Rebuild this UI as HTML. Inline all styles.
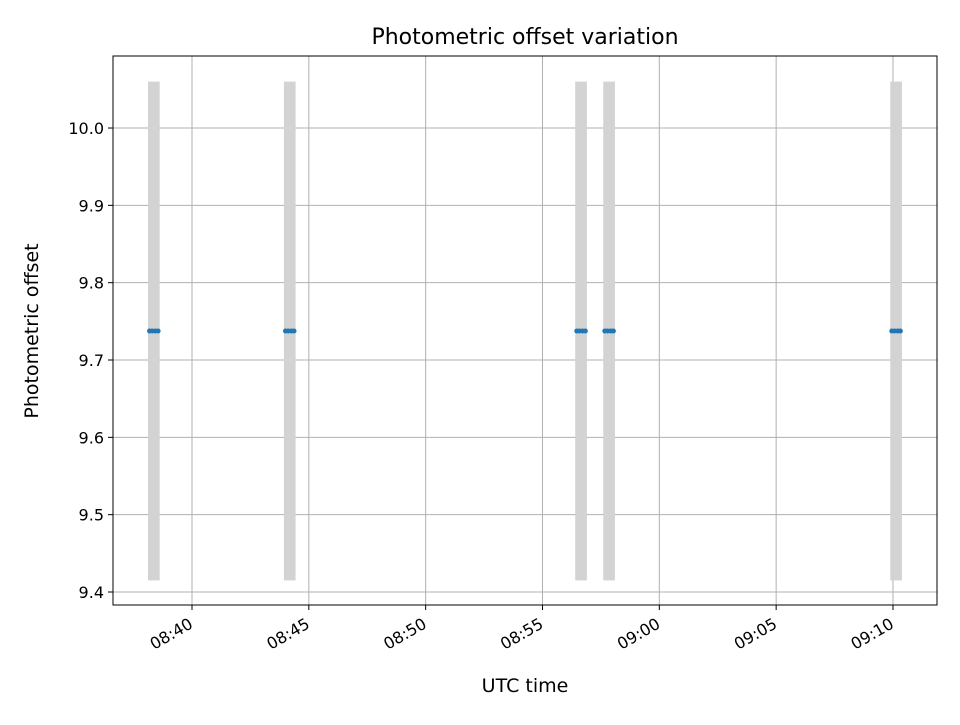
<!DOCTYPE html>
<html><head><meta charset="utf-8"><style>
body{margin:0;background:#fff;font-family:"Liberation Sans","DejaVu Sans",sans-serif}
</style></head><body>
<svg id="chart" width="960" height="720" xmlns="http://www.w3.org/2000/svg" font-family="DejaVu Sans, Liberation Sans, sans-serif"></svg>
<script>
// time in seconds relative to 08:40:00 UTC
const pointTimes = [-109,-102,-94,-87, 240,247,255,262, 988,995,1003,1010, 1060,1067,1075,1082, 1797,1804,1812,1819];
const pointValues = [9.7375,9.7375,9.7375,9.7375, 9.7375,9.7375,9.7375,9.7375, 9.7375,9.7375,9.7375,9.7375, 9.7375,9.7375,9.7375,9.7375, 9.7375,9.7375,9.7375,9.7375];
const bandStarts = [-113, 236, 984, 1056, 1793];
const bandEnds = [-83, 266, 1014, 1086, 1823];
const bandLow = 9.415, bandHigh = 10.06;
const xTickValues = [0,300,600,900,1200,1500,1800];
const xTickLabels = ["08:40","08:45","08:50","08:55","09:00","09:05","09:10"];
const yTickValues = [9.4,9.5,9.6,9.7,9.8,9.9,10.0];
const yTickLabels = ["9.4","9.5","9.6","9.7","9.8","9.9","10.0"];

const L=113,R=937,T=56,B=605;
const xs=t=>192+(t)*(116.83/300);
const ys=v=>592-(v-9.4)*773.3;
const svg=document.getElementById('chart');
const NS='http://www.w3.org/2000/svg';
function mk(tag,attrs,parent){const e=document.createElementNS(NS,tag);for(const k in attrs)e.setAttribute(k,attrs[k]);(parent||svg).appendChild(e);return e;}
xTickValues.forEach((t,i)=>{
  const g=mk('line',{x1:xs(t),x2:xs(t),y1:T,y2:B,stroke:'#b0b0b0','stroke-width':1});
  
  
});
yTickValues.forEach((v,i)=>{
  const g=mk('line',{x1:L,x2:R,y1:ys(v),y2:ys(v),stroke:'#b0b0b0','stroke-width':1});
  
  
});
bandStarts.forEach((s,i)=>{
  const r=mk('rect',{x:xs(s),y:ys(bandHigh),width:xs(bandEnds[i])-xs(s),height:ys(bandLow)-ys(bandHigh),fill:'#d3d3d3'});
  
  
});
pointTimes.forEach((t,i)=>{
  const c=mk('circle',{cx:xs(t),cy:ys(pointValues[i]),r:2.5,fill:'#1f77b4'});
  
  
});
const f=mk('rect',{x:L,y:T,width:R-L,height:B-T,fill:'none',stroke:'#000','stroke-width':1});


xTickValues.forEach((t,i)=>{
  const x=xs(t);
  const tk=mk('line',{x1:x,x2:x,y1:B,y2:B+5,stroke:'#000'});
  
  
  const ax=x+2, ay=B+22;
  const tx=mk('text',{x:ax,y:ay,'font-size':16,'text-anchor':'end',transform:`rotate(-30 ${ax} ${ay})`});
  tx.textContent=xTickLabels[i];
  
  
});
yTickValues.forEach((v,i)=>{
  const y=ys(v);
  const tk=mk('line',{x1:L-5,x2:L,y1:y,y2:y,stroke:'#000'});
  
  
  const tx=mk('text',{x:L-9,y:y+6,'font-size':16,'text-anchor':'end'});
  tx.textContent=yTickLabels[i];
  
  
});
const ti=mk('text',{x:525,y:44,'font-size':22,'text-anchor':'middle'});ti.textContent='Photometric offset variation';


const xl=mk('text',{x:525,y:692,'font-size':19,'text-anchor':'middle'});xl.textContent='UTC time';


const yl=mk('text',{x:38,y:331,'font-size':19,'text-anchor':'middle',transform:'rotate(-90 38 331)'});yl.textContent='Photometric offset';


</script>
</body></html>
